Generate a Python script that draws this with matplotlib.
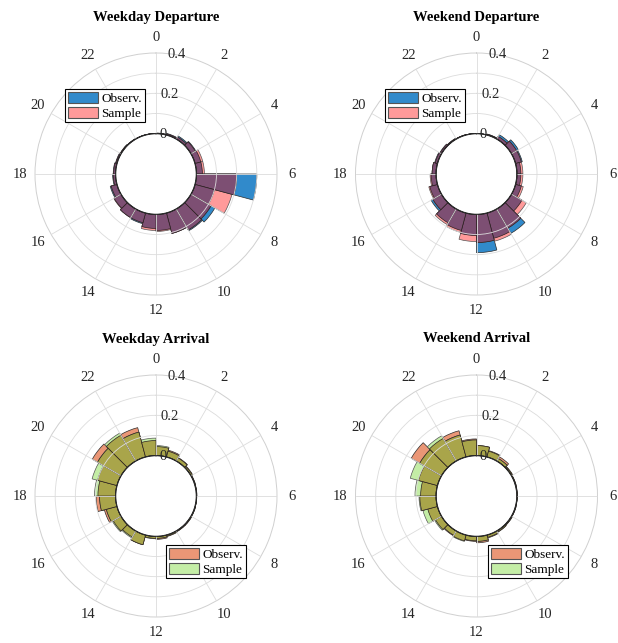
import numpy as np
import matplotlib
matplotlib.use("Agg")
import matplotlib.pyplot as plt
from matplotlib.patches import Patch

plt.rcParams['font.family'] = ['Liberation Serif', 'DejaVu Serif']

hours = np.arange(24)

# hourly share of trips, observed vs sampled
wd_dep_obs = [0.003, 0.008, 0.018, 0.028, 0.03, 0.03, 0.30, 0.10, 0.137, 0.125, 0.105, 0.08,
              0.07, 0.055, 0.05, 0.04, 0.035, 0.015, 0.012, 0.008, 0.005, 0.003, 0.002, 0.001]
wd_dep_smp = [0.002, 0.006, 0.012, 0.025, 0.04, 0.04, 0.20, 0.19, 0.115, 0.12, 0.105, 0.085,
              0.08, 0.05, 0.05, 0.042, 0.03, 0.012, 0.01, 0.006, 0.004, 0.002, 0.001, 0.001]
we_dep_obs = [0.0, 0.005, 0.025, 0.04, 0.035, 0.02, 0.02, 0.03, 0.06, 0.14, 0.13, 0.19,
              0.105, 0.09, 0.08, 0.06, 0.04, 0.025, 0.02, 0.015, 0.01, 0.005, 0.002, 0.001]
we_dep_smp = [0.0, 0.004, 0.015, 0.03, 0.03, 0.03, 0.03, 0.04, 0.085, 0.11, 0.145, 0.14,
              0.135, 0.10, 0.09, 0.05, 0.045, 0.03, 0.02, 0.012, 0.008, 0.004, 0.002, 0.001]
wd_arr_obs = [0.045, 0.035, 0.02, 0.01, 0.004, 0.003, 0.002, 0.003, 0.005, 0.005, 0.008, 0.015,
              0.01, 0.05, 0.035, 0.045, 0.065, 0.097, 0.088, 0.10, 0.165, 0.148, 0.151, 0.075]
wd_arr_smp = [0.05, 0.03, 0.018, 0.008, 0.003, 0.002, 0.002, 0.003, 0.004, 0.004, 0.006, 0.01,
              0.012, 0.05, 0.04, 0.05, 0.055, 0.08, 0.105, 0.128, 0.135, 0.16, 0.128, 0.087]
we_arr_obs = [0.05, 0.033, 0.025, 0.008, 0.004, 0.003, 0.002, 0.003, 0.005, 0.008, 0.015, 0.032,
              0.025, 0.03, 0.028, 0.035, 0.05, 0.081, 0.077, 0.098, 0.174, 0.13, 0.135, 0.083]
we_arr_smp = [0.05, 0.03, 0.015, 0.006, 0.003, 0.002, 0.002, 0.003, 0.005, 0.007, 0.012, 0.025,
              0.022, 0.033, 0.025, 0.04, 0.075, 0.085, 0.105, 0.14, 0.125, 0.145, 0.113, 0.078]

titles = ['Weekday Departure', 'Weekend Departure', 'Weekday Arrival', 'Weekend Arrival']
labels = ['Observ.', 'Sample']

dep_colors = ['#318ACB', '#FF9A9A', '#7D4F73']
arr_colors = ['#EA9676', '#C4EDA6', '#A9A54A']

fig = plt.figure(figsize=(6.18, 6.43), dpi=100)
W, H = 618, 643
R = 121

centers = [(156, 174), (476.5, 174), (156, 496), (476.5, 496)]
title_y = [17, 17, 339, 339]
legend_corners = [(65, 89), (385, 89), (166, 545), (488, 545)]

panels = [
    (wd_dep_obs, wd_dep_smp, dep_colors),
    (we_dep_obs, we_dep_smp, dep_colors),
    (wd_arr_obs, wd_arr_smp, arr_colors),
    (we_arr_obs, we_arr_smp, arr_colors),
]

width = 2 * np.pi / 24
theta = hours * width

for i, (obs, smp, cols) in enumerate(panels):
    cx, cy = centers[i]
    ax = fig.add_axes([(cx - R) / W, 1 - (cy + R) / H, 2 * R / W, 2 * R / H],
                      projection='polar')
    ax.set_theta_zero_location('N')
    ax.set_theta_direction(-1)
    ax.set_rorigin(-0.2)
    ax.set_rlim(0, 0.4)

    obs = np.array(obs)
    smp = np.array(smp)
    both = np.minimum(obs, smp)
    kw = dict(width=width, align='edge', bottom=0, linewidth=0.5, zorder=2)
    ax.bar(theta, obs, color=cols[0], edgecolor='#2b2b2b', **kw)
    ax.bar(theta, smp, color=cols[1], edgecolor='#555555', **kw)
    ax.bar(theta, both, color=cols[2], edgecolor='#2b2020', **kw)

    # zero ring
    tt = np.linspace(0, 2 * np.pi, 300)
    ax.plot(tt, np.zeros_like(tt), color='black', lw=0.9, zorder=4)

    ax.set_axisbelow(False)
    ax.set_rticks([0, 0.1, 0.2, 0.3])
    ax.set_yticklabels([])
    ax.set_xticks(np.deg2rad(np.arange(0, 360, 30)))
    ax.set_xticklabels([str(h) for h in range(0, 24, 2)], fontsize=10.5)
    ax.tick_params(axis='x', pad=0.5, colors='#262626')
    ax.grid(True, color='#dcdcdc', lw=0.6, zorder=3)
    ax.spines['polar'].set_color('#d0d0d0')
    ax.spines['polar'].set_linewidth(0.7)

    for r, s in [(0, '0'), (0.2, '0.2'), (0.4, '0.4')]:
        ax.text(np.deg2rad(10), r, s, ha='center', va='center', fontsize=10.5,
                color='#262626', zorder=5)

    fig.text(cx / W, 1 - title_y[i] / H, titles[i], ha='center', va='center',
             fontsize=10.5, fontweight='bold')

    handles = [Patch(facecolor=cols[0], edgecolor='#555555', lw=0.8),
               Patch(facecolor=cols[1], edgecolor='#555555', lw=0.8)]
    lx, ly = legend_corners[i]
    leg = ax.legend(handles, labels, loc='upper left',
                    bbox_to_anchor=(lx / W, 1 - ly / H), bbox_transform=fig.transFigure,
                    fontsize=9.5, frameon=True, fancybox=False, framealpha=1,
                    edgecolor='black', borderpad=0.2, labelspacing=0.15,
                    handlelength=2.3, handleheight=0.9, handletextpad=0.25,
                    borderaxespad=0)
    leg.get_frame().set_linewidth(0.8)
    leg.set_zorder(10)

fig.savefig('out.png', dpi=100)
